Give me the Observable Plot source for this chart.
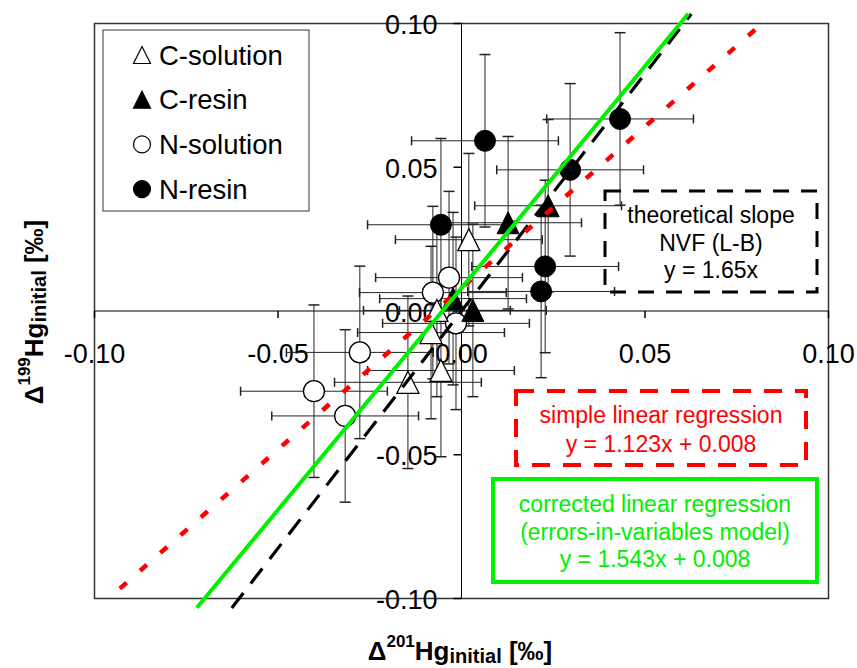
<!DOCTYPE html>
<html><head><meta charset="utf-8">
<script src="https://cdn.jsdelivr.net/npm/d3@7"></script>
<script src="https://cdn.jsdelivr.net/npm/@observablehq/plot@0.6"></script>
<style>
html,body{margin:0;padding:0;background:#fff;}
svg{display:block}
</style></head><body><div id="chart"></div>
<script>
const FONT = "'Liberation Sans', Arial, Helvetica, sans-serif";

// ---- data ----
const seriesNames = ["C-solution", "C-resin", "N-solution", "N-resin"];

const cSolX = [0.0020, -0.0067, -0.0083, -0.0056, -0.0146];
const cSolY = [0.0248, 0.0002, -0.0075, -0.0207, -0.0248];
const cSolXErr = [0.020, 0.020, 0.020, 0.020, 0.020];
const cSolYErr = [0.030, 0.030, 0.030, 0.030, 0.030];

const cResX = [0.0127, 0.0236, -0.0023, 0.0031];
const cResY = [0.0307, 0.0366, 0.0043, 0.0002];
const cResXErr = [0.020, 0.020, 0.020, 0.020];
const cResYErr = [0.030, 0.030, 0.030, 0.030];

const nSolX = [-0.0034, -0.0078, -0.0015, -0.0277, -0.0402, -0.0317];
const nSolY = [0.0116, 0.0064, -0.0043, -0.0144, -0.0279, -0.0365];
const nSolXErr = [0.020, 0.020, 0.020, 0.020, 0.020, 0.020];
const nSolYErr = [0.030, 0.030, 0.030, 0.030, 0.030, 0.030];

const nResX = [0.0064, 0.0432, 0.0296, -0.0056, 0.0228, 0.0217];
const nResY = [0.0592, 0.0668, 0.0491, 0.0300, 0.0155, 0.0068];
const nResXErr = [0.020, 0.020, 0.020, 0.020, 0.020, 0.020];
const nResYErr = [0.030, 0.030, 0.030, 0.030, 0.030, 0.030];

// fitted lines: y = slope * x + intercept, drawn between xStart and xEnd
const lineNames = ["theoretical", "simple", "corrected"];
const lineSlopes = [1.65, 1.123, 1.543];
const lineIntercepts = [0, 0.008, 0.008];
const lineXStart = [-0.0626, -0.0931, -0.0721];
const lineXEnd = [0.0626, 0.0819, 0.0618];

const xTicks = [-0.10, -0.05, 0.00, 0.05, 0.10];
const yTicks = [-0.10, -0.05, 0.00, 0.05, 0.10];

const boxTexts = {
  theoretical: ["theoretical slope", "NVF (L-B)", "y = 1.65x"],
  simple: ["simple linear regression", "y = 1.123x + 0.008"],
  corrected: ["corrected linear regression", "(errors-in-variables model)", "y = 1.543x + 0.008"]
};

// ---- build tables ----
function makeSeries(name, xs, ys, exs, eys) {
  return xs.map((x, i) => ({series: name, x, y: ys[i], ex: exs[i], ey: eys[i]}));
}
const cSol = makeSeries("C-solution", cSolX, cSolY, cSolXErr, cSolYErr);
const cRes = makeSeries("C-resin", cResX, cResY, cResXErr, cResYErr);
const nSol = makeSeries("N-solution", nSolX, nSolY, nSolXErr, nSolYErr);
const nRes = makeSeries("N-resin", nResX, nResY, nResXErr, nResYErr);
const allPts = [...cSol, ...cRes, ...nSol, ...nRes];

const lines = {};
lineNames.forEach((n, i) => {
  lines[n] = [lineXStart[i], lineXEnd[i]].map(x => ({x, y: lineSlopes[i] * x + lineIntercepts[i]}));
});

// ---- custom symbols ----
const triSym = {draw(ctx, size) { const r = Math.sqrt(size / Math.PI); ctx.moveTo(0, -r); ctx.lineTo(r, r); ctx.lineTo(-r, r); ctx.closePath(); }};
const hCap = {draw(ctx, size) { const r = Math.sqrt(size / Math.PI); ctx.moveTo(-r, 0); ctx.lineTo(r, 0); }};
const vCap = {draw(ctx, size) { const r = Math.sqrt(size / Math.PI); ctx.moveTo(0, -r); ctx.lineTo(0, r); }};
const tickDown = {draw(ctx, size) { const r = Math.sqrt(size / Math.PI); ctx.moveTo(0, 0); ctx.lineTo(0, r); }};
const tickLeft = {draw(ctx, size) { const r = Math.sqrt(size / Math.PI); ctx.moveTo(0, 0); ctx.lineTo(-r, 0); }};

const fmt = d => d.toFixed(2);
const barColor = "#222";
const GREEN = "#00f000";

const chart = Plot.plot({
  width: 857, height: 668,
  marginLeft: 94, marginRight: 29, marginTop: 23, marginBottom: 70,
  x: {domain: [-0.1, 0.1], axis: null},
  y: {domain: [-0.1, 0.1], axis: null},
  style: {fontFamily: FONT, background: "white", overflow: "visible", color: "black"},
  marks: [
    Plot.frame({stroke: "#333", strokeWidth: 1.5}),
    Plot.ruleX([0], {stroke: "black", strokeWidth: 1}),
    Plot.ruleY([0], {stroke: "black", strokeWidth: 1}),
    Plot.dot(xTicks, {x: d => d, y: 0, symbol: tickDown, r: 7, stroke: "black", fill: "none"}),
    Plot.dot(yTicks, {x: 0, y: d => d, symbol: tickLeft, r: 8, stroke: "black", fill: "none"}),
    Plot.text(xTicks, {x: d => d, y: 0, text: fmt, dy: 43, fontSize: 27, fill: "black"}),
    Plot.text(yTicks, {x: 0, y: d => d, text: fmt, dx: -24, dy: 2, textAnchor: "end", fontSize: 27, fill: "black"}),
    // error bars
    Plot.ruleY(allPts, {y: "y", x1: d => d.x - d.ex, x2: d => d.x + d.ex, stroke: barColor, strokeWidth: 1}),
    Plot.ruleX(allPts, {x: "x", y1: d => d.y - d.ey, y2: d => d.y + d.ey, stroke: barColor, strokeWidth: 1}),
    Plot.dot(allPts, {x: d => d.x - d.ex, y: "y", symbol: vCap, r: 4.5, stroke: barColor, fill: "none"}),
    Plot.dot(allPts, {x: d => d.x + d.ex, y: "y", symbol: vCap, r: 4.5, stroke: barColor, fill: "none"}),
    Plot.dot(allPts, {x: "x", y: d => d.y - d.ey, symbol: hCap, r: 5.5, stroke: barColor, fill: "none"}),
    Plot.dot(allPts, {x: "x", y: d => d.y + d.ey, symbol: hCap, r: 5.5, stroke: barColor, fill: "none"}),
    // markers
    Plot.dot(nSol, {x: "x", y: "y", r: 10.5, symbol: "circle", fill: "white", stroke: "black", strokeWidth: 1.3}),
    Plot.dot(nRes, {x: "x", y: "y", r: 10.5, symbol: "circle", fill: "black", stroke: "black", strokeWidth: 1}),
    Plot.dot(cSol, {x: "x", y: "y", r: 11, symbol: triSym, fill: "white", stroke: "black", strokeWidth: 1.3}),
    Plot.dot(cRes, {x: "x", y: "y", r: 11, symbol: triSym, fill: "black", stroke: "black", strokeWidth: 1}),
    // lines
    Plot.line(lines.theoretical, {x: "x", y: "y", stroke: "black", strokeWidth: 3.2, strokeDasharray: "19,12", strokeLinecap: "butt"}),
    Plot.line(lines.simple, {x: "x", y: "y", stroke: "#ff0000", strokeWidth: 4.5, strokeDasharray: "9,18", strokeLinecap: "butt"}),
    Plot.line(lines.corrected, {x: "x", y: "y", stroke: GREEN, strokeWidth: 4, strokeLinecap: "butt"})
  ]
});

document.getElementById("chart").appendChild(chart);
const svg = d3.select(chart);

// ---- legend ----
const lg = svg.append("g").attr("font-family", FONT).attr("text-anchor", "start");
lg.append("rect").attr("x", 103).attr("y", 30).attr("width", 206).attr("height", 181)
  .attr("fill", "white").attr("stroke", "#333").attr("stroke-width", 1);
const legendSyms = [
  {sym: triSym, fill: "white"}, {sym: triSym, fill: "black"},
  {sym: d3.symbolCircle, fill: "white"}, {sym: d3.symbolCircle, fill: "black"}
];
seriesNames.forEach((name, i) => {
  const cy = 55 + i * 44.7;
  const s = legendSyms[i];
  const r = 8.5;
  lg.append("path").attr("transform", `translate(142,${cy})`)
    .attr("d", d3.symbol(s.sym, r * r * Math.PI)())
    .attr("fill", s.fill).attr("stroke", "black").attr("stroke-width", 1.2);
  lg.append("text").attr("x", 159).attr("y", cy + 9.5).attr("font-size", 27.5)
    .attr("text-anchor", "start").attr("fill", "black").text(name);
});

// ---- annotation boxes ----
function box(x, y, w, h, stroke, sw, dash, texts, cx, baselines, color) {
  const g = svg.append("g").attr("font-family", FONT);
  g.append("rect").attr("x", x).attr("y", y).attr("width", w).attr("height", h)
    .attr("fill", "none").attr("stroke", stroke).attr("stroke-width", sw)
    .attr("stroke-dasharray", dash);
  texts.forEach((t, i) => {
    g.append("text").attr("x", cx).attr("y", baselines[i]).attr("text-anchor", "middle")
      .attr("font-size", 23).attr("fill", color).text(t);
  });
}
box(605, 191, 212, 101, "black", 3, "16,12", boxTexts.theoretical, 711, [223, 251, 278], "black");
box(516, 391, 290, 74, "#ff0000", 4, "18,13", boxTexts.simple, 661, [423, 452], "#ff0000");
box(493, 479, 324, 103, GREEN, 4, null, boxTexts.corrected, 655, [512, 540, 567], GREEN);

// ---- axis titles ----
function richTitle(sel, sup) {
  sel.attr("font-family", FONT).attr("font-weight", "bold").attr("font-size", 26)
    .attr("text-anchor", "middle").attr("fill", "black");
  sel.append("tspan").text("Δ");
  sel.append("tspan").attr("font-size", 17).attr("dy", -13).text(sup);
  sel.append("tspan").attr("dy", 13).text("Hg");
  sel.append("tspan").attr("font-size", 20).attr("dy", 3).text("initial");
  sel.append("tspan").attr("dy", -3).text(" [‰]");
}
richTitle(svg.append("text").attr("x", 460).attr("y", 660), "201");
richTitle(svg.append("text").attr("transform", "translate(43,312) rotate(-90)"), "199");
</script></body></html>
